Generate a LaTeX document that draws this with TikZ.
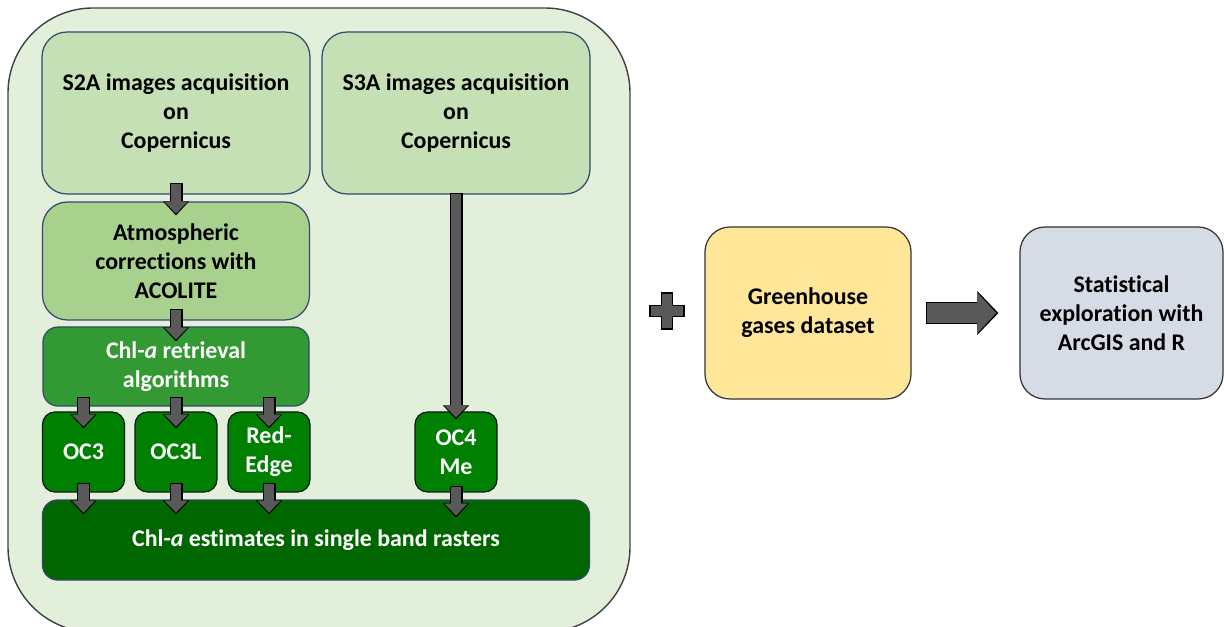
\documentclass[tikz,border=0pt]{standalone}
\usepackage{fontspec}
\setmainfont[Ligatures=NoCommon]{Carlito}
\usepackage{tikz}
\usetikzlibrary{arrows.meta}
\definecolor{framefill}{RGB}{226,239,218}
\definecolor{palegreen}{RGB}{197,224,180}
\definecolor{midgreen}{RGB}{169,209,142}
\definecolor{leafgreen}{RGB}{51,153,51}
\definecolor{algogreen}{RGB}{0,128,0}
\definecolor{deepgreen}{RGB}{0,102,0}
\definecolor{boxline}{RGB}{52,72,110}
\definecolor{arrowgray}{RGB}{89,89,89}
\definecolor{sand}{RGB}{255,230,153}
\definecolor{slate}{RGB}{214,220,229}
\newcommand{\boxfont}{\fontsize{13.6pt}{16.4pt}\selectfont\bfseries}
\tikzstyle{frame} = [rounded corners=1.7cm, fill=framefill, draw=black!75, line width=0.8pt]
\tikzstyle{source} = [rectangle, rounded corners=0.5cm, minimum width=5.36cm, minimum height=3.24cm, align=center, draw=boxline, line width=0.7pt, fill=palegreen, font=\boxfont]
\tikzstyle{correction} = [source, minimum width=5.34cm, minimum height=2.36cm, fill=midgreen]
\tikzstyle{retrieval} = [source, minimum width=5.32cm, minimum height=1.58cm, rounded corners=0.3cm, fill=leafgreen, text=white]
\tikzstyle{algo} = [source, minimum width=1.64cm, minimum height=1.6cm, rounded corners=0.25cm, fill=algogreen, draw=black!70!boxline, text=white]
\tikzstyle{estimate} = [source, minimum width=10.94cm, minimum height=1.6cm, rounded corners=0.3cm, fill=deepgreen, text=white]
\tikzstyle{dataset} = [source, minimum width=4.12cm, minimum height=3.44cm, draw=black!80, fill=sand]
\tikzstyle{analysis} = [dataset, minimum width=4.06cm, fill=slate]
\tikzstyle{flow} = [line width=7.4pt, draw=black, -{Triangle[width=15pt,length=8pt,line width=0pt]},
  postaction={draw=arrowgray, line width=6pt, shorten <=0.7pt, shorten >=1pt, -{Triangle[width=13.2pt,length=6.8pt,line width=0pt]}}]
\tikzstyle{bigflow} = [line width=13pt, draw=black, -{Triangle[width=25pt,length=12pt,line width=0pt]},
  postaction={draw=arrowgray, line width=11.6pt, shorten <=0.7pt, shorten >=1.3pt, -{Triangle[width=23pt,length=10.6pt,line width=0pt]}}]

\begin{document}
\begin{tikzpicture}[node distance=2.96cm]
\useasboundingbox (0,0) rectangle (24.48,-12.54);
\draw [frame] (0.16,-0.16) rectangle (12.6,-12.64);

\node (s2a) [source] at (3.52,-2.26) {S2A images acquisition\\on\\Copernicus};
\node (s3a) [source, right of=s2a, node distance=5.6cm] {S3A images acquisition\\on\\Copernicus};
\node (atm) [correction, below of=s2a] {Atmospheric\\corrections with\\ACOLITE};
\node (ret) [retrieval, below of=atm, node distance=2.11cm] {Chl-\textit{a} retrieval\\algorithms};
\node (oc3l) [algo, below of=ret, node distance=1.71cm] {OC3L};
\node (oc3) [algo, left of=oc3l, node distance=1.85cm] {OC3};
\node (red) [algo, right of=oc3l, node distance=1.86cm] {Red-\\Edge};
\node (oc4) [algo, below of=s3a, node distance=6.78cm] {OC4\\Me};
\node (est) [estimate, below of=oc3l, node distance=1.76cm, xshift=2.8cm] {Chl-\textit{a} estimates in single band rasters};

\node (ghg) [dataset] at (16.16,-6.26) {Greenhouse\\gases dataset};
\node (stat) [analysis, right of=ghg, node distance=6.27cm] {Statistical\\exploration with\\ArcGIS and R};

% plus sign
\coordinate (plus) at (13.34,-6.22);
\draw [fill=arrowgray, draw=black, line width=0.6pt] (plus) ++(-0.116,0.36) -- ++(0.232,0) -- ++(0,-0.244) -- ++(0.224,0) -- ++(0,-0.232)
  -- ++(-0.224,0) -- ++(0,-0.244) -- ++(-0.232,0) -- ++(0,0.244) -- ++(-0.224,0) -- ++(0,0.232) -- ++(0.224,0) -- cycle;

\draw [flow] ([yshift=0.24cm]s2a.south) -- ([yshift=-0.28cm]atm.north);
\draw [flow] ([yshift=0.24cm]atm.south) -- ([yshift=-0.3cm]ret.north);
\foreach \n in {oc3, oc3l, red} {
  \draw [flow] ([yshift=0.2cm]ret.south -| \n) -- ([yshift=-0.34cm]\n.north);
  \draw [flow] ([yshift=0.2cm]\n.south) -- ([yshift=-0.3cm]est.north -| \n);
}
\draw [flow] ([yshift=0.04cm]s3a.south) -- ([yshift=-0.16cm]oc4.north);
\draw [flow] ([yshift=0.14cm]oc4.south) -- ([yshift=-0.36cm]est.north -| oc4);
\draw [bigflow] ([xshift=0.29cm]ghg.east) -- ([xshift=-0.42cm]stat.west);
\end{tikzpicture}
\end{document}
